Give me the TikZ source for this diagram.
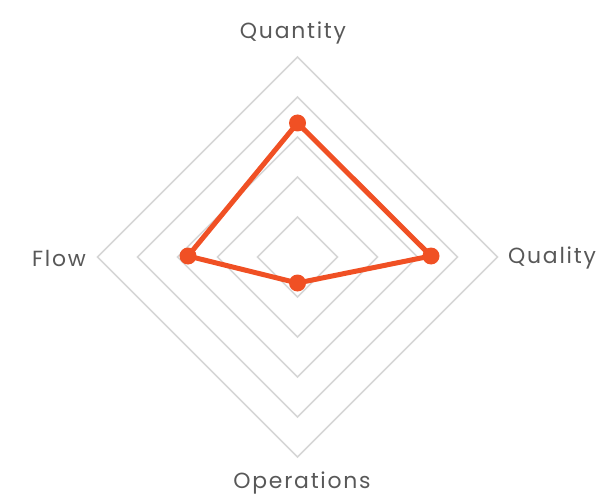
\documentclass[tikz,border=0pt]{standalone}
\usepackage{fontspec}
\setmainfont{Poppins}[LetterSpace=8]
\definecolor{gridc}{RGB}{214,214,214}
\definecolor{datac}{RGB}{240,80,36}
\definecolor{textc}{RGB}{88,88,88}
\begin{document}
\begin{tikzpicture}[x=1bp,y=-1bp,
  gridline/.style={draw=gridc,line width=1.6bp},
  dataline/.style={draw=datac,line width=5bp,line join=round},
  datadot/.style={circle,fill=datac,inner sep=0pt,minimum size=17bp},
  axislabel/.style={text=textc,font=\fontsize{22}{26}\selectfont,inner sep=0pt}]
\useasboundingbox (0,0) rectangle (605,496);
\coordinate (c) at (297.5,257);
\foreach \r in {40,80,120,160,200}{
  \draw[gridline] ([yshift=-\r bp]c) -- ([xshift=\r bp]c) -- ([yshift=\r bp]c) -- ([xshift=-\r bp]c) -- cycle;
}
\coordinate (q) at (297.5,123);
\coordinate (ql) at (431,256);
\coordinate (op) at (297.5,283);
\coordinate (fl) at (188,256);
\draw[dataline] (q) -- (ql) -- (op) -- (fl) -- cycle;
\node[datadot] (dq) at (q) {};
\node[datadot] (dql) at (ql) {};
\node[datadot] (dop) at (op) {};
\node[datadot] (dfl) at (fl) {};
\node[axislabel] (lq) at (293,33) {Quantity};
\node[axislabel] (lql) at (552,258) {Quality};
\node[axislabel] (lop) at (302,483) {Operations};
\node[axislabel] (lfl) at (59,258) {Flow};
\end{tikzpicture}
\end{document}
